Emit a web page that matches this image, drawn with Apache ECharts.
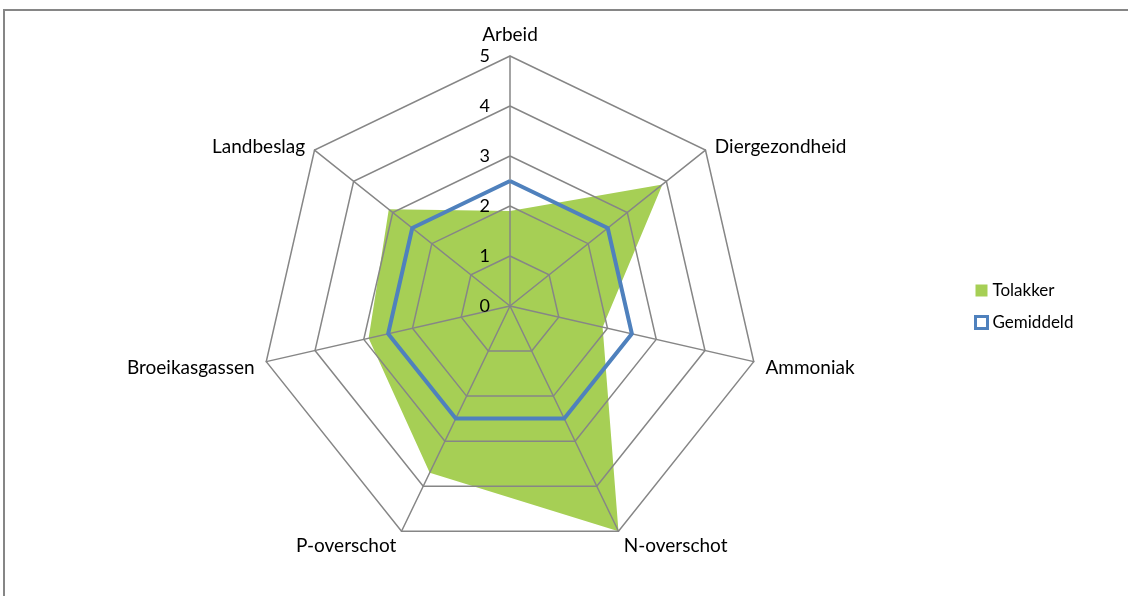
<!DOCTYPE html>
<html>
<head>
    <meta charset="utf-8">
    <title>Radar</title>
    <script src="https://cdn.jsdelivr.net/npm/echarts@6/dist/echarts.min.js"></script>
    <style>
        body { margin: 0; background: #fff; }
    </style>
</head>
<body>
    <div id="main" style="width: 1128px;height:596px;"></div>
    <script type="text/javascript">
        // indicators, clockwise from the top
        var indicators = ['Arbeid', 'Diergezondheid', 'Ammoniak', 'N-overschot', 'P-overschot', 'Broeikasgassen', 'Landbeslag'];
        var tolakker = [1.9, 3.9, 1.9, 5, 3.7, 2.9, 3.1];
        var gemiddeld = [2.5, 2.5, 2.5, 2.5, 2.5, 2.5, 2.5];
        var axisMax = 5;

        // echarts lays radar axes out counter-clockwise, so flip the order after the first one
        function clockwise(arr) {
            return [arr[0]].concat(arr.slice(1).reverse());
        }

        var font = 'Lato, "Liberation Sans", sans-serif';
        var myChart = echarts.init(document.getElementById('main'));

        myChart.setOption({
            animation: false,
            textStyle: { fontFamily: font },
            graphic: [{
                type: 'rect',
                shape: { x: 4, y: 10, width: 1200, height: 700 },
                style: { fill: 'none', stroke: '#868686', lineWidth: 2 },
                silent: true
            }],
            legend: {
                orient: 'vertical',
                left: 969,
                top: 277,
                itemWidth: 12,
                itemHeight: 12,
                itemGap: 15,
                textStyle: { color: '#000', fontSize: 17, fontFamily: font },
                data: [
                    { name: 'Tolakker', icon: 'rect', itemStyle: { color: '#A6CF55' } },
                    { name: 'Gemiddeld', icon: 'rect', itemStyle: { color: '#fff', borderColor: '#4F81BD', borderWidth: 3 } }
                ]
            },
            radar: {
                z: 2,
                center: [510, 306],
                radius: 250,
                startAngle: 90,
                shape: 'polygon',
                splitNumber: 5,
                axisNameGap: 12,
                axisName: {
                    formatter: '{a|{value}}',
                    rich: {
                        a: { color: '#000', fontSize: 19, fontFamily: font, padding: [8, 0, 0, 0] }
                    }
                },
                splitArea: { show: false },
                splitLine: { lineStyle: { color: '#868686', width: 1.5 } },
                axisLine: { lineStyle: { color: '#868686', width: 1.5 } },
                axisLabel: { show: false },
                indicator: clockwise(indicators).map(function (name, i) {
                    var ind = { name: name, min: 0, max: axisMax };
                    if (i === 0) {
                        ind.axisLabel = { show: true, color: '#000', fontSize: 18, fontFamily: font, margin: 20 };
                    }
                    return ind;
                })
            },
            series: [
                {
                    name: 'Tolakker',
                    type: 'radar',
                    z: 1,
                    symbol: 'none',
                    lineStyle: { width: 0, opacity: 0 },
                    areaStyle: { color: '#A6CF55', opacity: 1 },
                    itemStyle: { color: '#A6CF55' },
                    data: [{ name: 'Tolakker', value: clockwise(tolakker) }]
                },
                {
                    name: 'Gemiddeld',
                    type: 'radar',
                    z: 3,
                    symbol: 'none',
                    lineStyle: { color: '#4F81BD', width: 4 },
                    itemStyle: { color: '#4F81BD' },
                    data: [{ name: 'Gemiddeld', value: clockwise(gemiddeld) }]
                }
            ]
        });
    </script>
</body>
</html>
